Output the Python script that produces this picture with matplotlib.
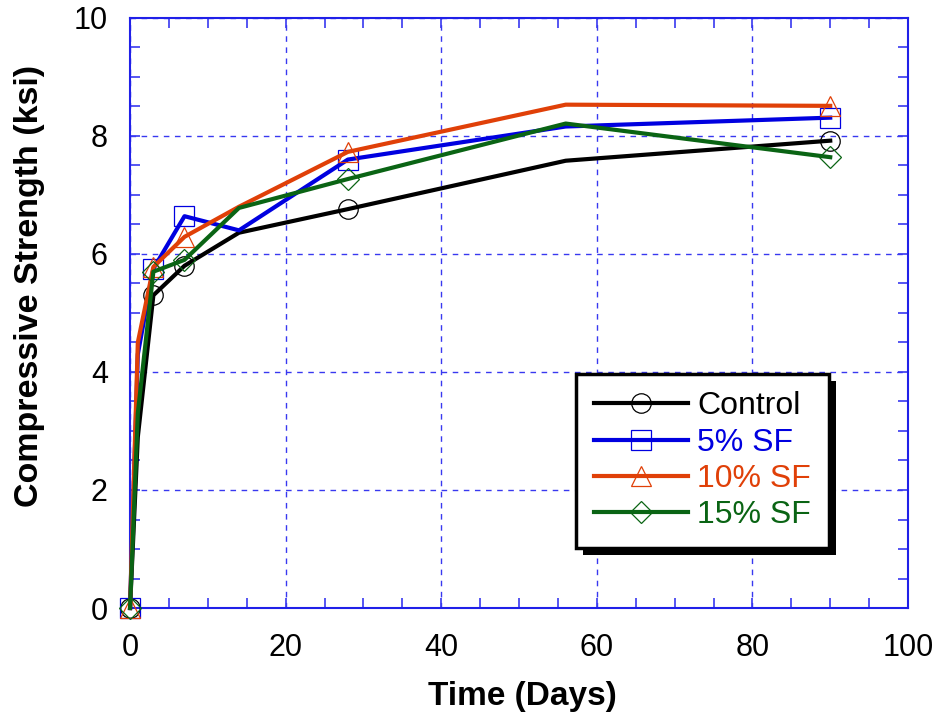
import matplotlib
matplotlib.use("Agg")
import matplotlib.pyplot as plt
from matplotlib.patches import Rectangle
from matplotlib.ticker import MultipleLocator

# data
days = [0, 1, 3, 7, 14, 28, 56, 90]
control = [0, 2.9, 5.3, 5.8, 6.36, 6.76, 7.58, 7.92]
sf5 = [0, 4.3, 5.75, 6.64, 6.4, 7.6, 8.16, 8.31]
sf10 = [0, 4.5, 5.78, 6.29, 6.8, 7.73, 8.53, 8.51]
sf15 = [0, 3.3, 5.7, 5.9, 6.78, 7.27, 8.21, 7.64]
marked = [0, 2, 3, 5, 7]  # markers only on these points

labels = ["Control", "5% SF", "10% SF", "15% SF"]
colors = ["black", "#0000E0", "#E04008", "#0A6414"]
markers = ["o", "s", "^", "D"]

plt.rcParams["font.family"] = ["Liberation Sans", "DejaVu Sans"]

fig = plt.figure(figsize=(9.43, 7.17), dpi=100)
ax = fig.add_axes([0.1379, 0.152, 0.825, 0.823])

for y, lab, c, m in zip([control, sf5, sf10, sf15], labels, colors, markers):
    ms = 11 if m == "D" else 14
    ax.plot(days, y, color=c, lw=3, marker=m, markevery=marked,
            markersize=ms, markerfacecolor="none", markeredgecolor=c,
            markeredgewidth=0.9, label=lab, zorder=3, clip_on=False)

ax.set_xlim(0, 100)
ax.set_ylim(0, 10)
ax.xaxis.set_major_locator(MultipleLocator(20))
ax.xaxis.set_minor_locator(MultipleLocator(5))
ax.yaxis.set_major_locator(MultipleLocator(2))
ax.yaxis.set_minor_locator(MultipleLocator(0.5))
ax.tick_params(which="both", direction="in", length=7, width=1.2, color="#3838F0",
               top=True, right=True)
ax.tick_params(axis="y", labelsize=22, pad=16)
ax.tick_params(axis="x", labelsize=22, pad=18)
for s in ax.spines.values():
    s.set_color("#2020E8")
    s.set_linewidth(1.5)
ax.grid(True, which="major", color="#3838F0", ls=(0, (4, 4)), lw=1)

fig.text(522 / 943, 1 - 697 / 717, "Time (Days)", fontsize=24, fontweight="bold",
         ha="center", va="center")
fig.text(30 / 943, 1 - 286 / 717, "Compressive Strength (ksi)", fontsize=24.5,
         fontweight="bold", rotation=90, ha="center", va="center")

leg = ax.legend(loc="upper left", bbox_to_anchor=(0.5733, 0.397), borderaxespad=0,
                fontsize=23, handlelength=2.95, handletextpad=0.3, labelspacing=0.2,
                borderpad=0.55, fancybox=False, framealpha=1, edgecolor="black")
leg.get_frame().set_linewidth(2.5)
leg.set_zorder(6)
for t, c in zip(leg.get_texts(), colors):
    t.set_color(c)

# solid black drop shadow, offset down-right like the original
fig.canvas.draw()
bb = leg.get_window_extent()
ax.add_patch(Rectangle((bb.x0 + 7, bb.y0 - 7), bb.width, bb.height, transform=None,
                       facecolor="black", edgecolor="none", zorder=5.5, clip_on=False))

fig.savefig("out.png", dpi=100)
